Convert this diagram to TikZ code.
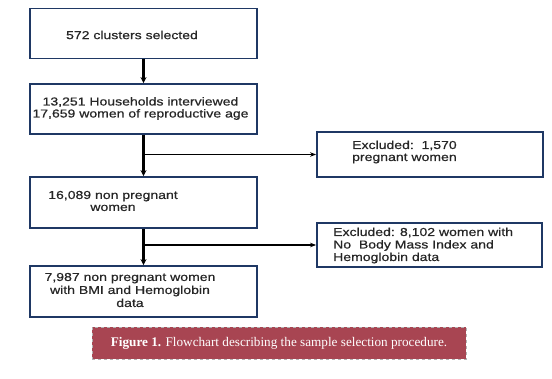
\documentclass[tikz,border=0pt]{standalone}
\usepackage{fontspec}
\setmainfont{Liberation Sans}
\newfontfamily\boxfont{Liberation Sans}[FakeStretch=1.22,FakeBold=0.6]
\newfontfamily\capfont{Liberation Serif}
\usetikzlibrary{arrows.meta}
\definecolor{boxblue}{HTML}{1F3864}
\definecolor{capred}{HTML}{A84552}
\tikzset{
  box/.style={draw=boxblue,line width=1.8pt,minimum width=227pt,minimum height=50pt,inner sep=0pt},
  txt/.style={font=\boxfont\fontsize{11.5}{12}\selectfont,align=center,inner sep=0pt,text=black!85},
  spine/.style={line width=2.5pt,-{Stealth[length=6pt,width=6pt]}},
  branch/.style={line width=1.2pt,-{Stealth[length=6pt,width=4.5pt]}}
}
\begin{document}
\begin{tikzpicture}[x=1pt,y=-1pt]
  \useasboundingbox (0,0) rectangle (552,379);
  \node[box] (clusters) at (143.5,33.5) {};
  \node[txt] at (132,35) {572 clusters selected};
  \node[box] (households) at (143.5,109) {};
  \node[txt] at (140.5,108.5) {13,251 Households interviewed\\17,659 women of reproductive age};
  \node[box,minimum height=51pt] (nonpreg) at (143.5,202.5) {};
  \node[txt] at (113,201) {16,089 non pregnant\\women};
  \node[box,minimum height=51pt] (final) at (143.5,291.5) {};
  \node[txt,font=\boxfont\fontsize{11.5}{13}\selectfont] at (130,290) {7,987 non pregnant women\\with BMI and Hemoglobin\\data};
  \node[box,minimum width=226pt,minimum height=45pt] (excl1) at (430,154.5) {};
  \node[txt,align=left,anchor=west] at (352,152) {Excluded:\ \ 1,570\\pregnant women};
  \node[box,minimum width=225pt,minimum height=44pt] (excl2) at (429.5,245) {};
  \node[txt,align=left,anchor=west,font=\boxfont\fontsize{11.5}{12.5}\selectfont] at (333,245.5) {Excluded: 8,102 women with\\No\ \ Body Mass Index and\\Hemoglobin data};
  \coordinate (split1) at (households.south |- excl1.west);
  \coordinate (split2) at (nonpreg.south |- excl2.west);
  \draw[spine] (clusters) -- (households);
  \draw[spine] (households) -- (nonpreg);
  \draw[spine] (nonpreg) -- (final);
  \draw[branch] (split1) -- (excl1.west);
  \draw[branch] (split2) -- (excl2.west);
  \node[fill=capred,draw=gray!60,dashed,minimum width=374pt,minimum height=32pt,inner sep=0pt,text=white,font=\capfont\fontsize{13.2}{13}\selectfont] (caption) at (279,343) {\textbf{Figure 1.} Flowchart describing the sample selection procedure.};
\end{tikzpicture}
\end{document}
